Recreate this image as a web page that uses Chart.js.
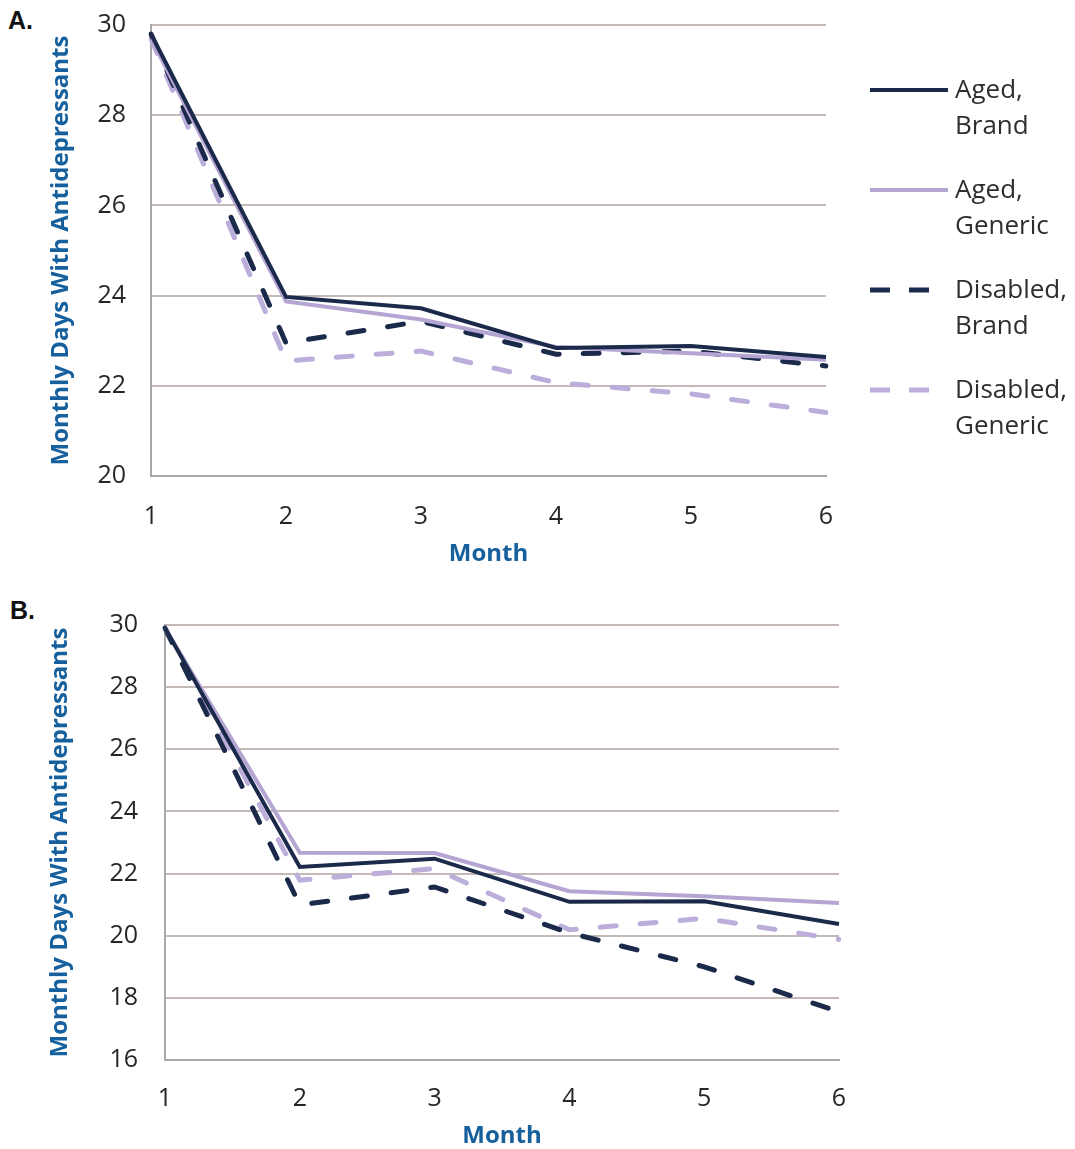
<!DOCTYPE html>
<html>
<head>
<meta charset="utf-8">
<script src="https://cdn.jsdelivr.net/npm/chart.js@4/dist/chart.umd.min.js"></script>
<style>
  html, body { margin: 0; padding: 0; background: #ffffff; }
  body { width: 1075px; height: 1149px; position: relative; overflow: hidden; }
  canvas { position: absolute; left: 0; }
  .plabel { position: absolute; font-family: "Liberation Sans", Arial, sans-serif; font-weight: bold; font-size: 25px; color: #111; }
</style>
</head>
<body>
<div class="plabel" style="left:8px; top:6px;">A.</div>
<div class="plabel" style="left:10px; top:596px;">B.</div>
<canvas id="chartA" width="1075" height="580" style="top:0px;"></canvas>
<canvas id="chartB" width="1075" height="559" style="top:590px;"></canvas>
<script>
// ---- Data ----
const months = ['1', '2', '3', '4', '5', '6'];
const seriesLabels = ['Aged, Brand', 'Aged, Generic', 'Disabled, Brand', 'Disabled, Generic'];

// Panel A
const agedBrandA       = [29.8, 23.97, 23.72, 22.84, 22.88, 22.64];
const agedGenericA     = [29.7, 23.87, 23.47, 22.86, 22.72, 22.58];
const disabledBrandA   = [29.8, 22.95, 23.43, 22.70, 22.77, 22.44];
const disabledGenericA = [29.7, 22.55, 22.77, 22.07, 21.82, 21.41];
const yTicksA = [20, 22, 24, 26, 28, 30];

// Panel B
const agedBrandB       = [29.9, 22.21, 22.48, 21.09, 21.11, 20.38];
const agedGenericB     = [29.9, 22.67, 22.66, 21.43, 21.27, 21.05];
const disabledBrandB   = [29.9, 20.99, 21.57, 20.09, 19.00, 17.55];
const disabledGenericB = [29.9, 21.79, 22.16, 20.19, 20.56, 19.88];
const yTicksB = [16, 18, 20, 22, 24, 26, 28, 30];

const yTitle = 'Monthly Days With Antidepressants';
const xTitle = 'Month';

// ---- Styles ----
const NAVY = '#1b2a4a';
const LAV = '#b4a5d3';
const LAV_D = '#bcaedb';
const BLUE = '#16609e';
const GRID = '#c4b9b5';
const AXIS = '#a8a8a8';
const TICK = '#262626';
const FONT = '"Open Sans", "DejaVu Sans", sans-serif';
const DASH = [16, 24];

function makeDatasets(a, b, c, d) {
  const vals = [a, b, c, d];
  const styles = [
    { borderColor: NAVY, borderWidth: 4, borderDash: [], borderCapStyle: 'butt' },
    { borderColor: LAV, borderWidth: 4, borderDash: [], borderCapStyle: 'butt' },
    { borderColor: NAVY, borderWidth: 5, borderDash: DASH, borderCapStyle: 'round' },
    { borderColor: LAV_D, borderWidth: 5, borderDash: DASH, borderCapStyle: 'round' }
  ];
  return vals.map((v, i) => Object.assign({
    label: seriesLabels[i],
    data: v,
    pointRadius: 0,
    pointHoverRadius: 0,
    tension: 0,
    fill: false,
    borderJoinStyle: 'miter'
  }, styles[i]));
}

function legendPlugin(cfg) {
  return {
    id: 'sideLegend',
    afterDraw(chart) {
      const ctx = chart.ctx;
      ctx.save();
      chart.data.datasets.forEach((ds, i) => {
        const y = cfg.y0 + i * cfg.spacing;
        ctx.beginPath();
        ctx.strokeStyle = ds.borderColor;
        ctx.lineWidth = ds.borderWidth;
        ctx.setLineDash(ds.borderDash && ds.borderDash.length ? cfg.legendDash : []);
        ctx.lineCap = 'butt';
        ctx.moveTo(cfg.x0, y);
        ctx.lineTo(cfg.x1, y);
        ctx.stroke();
        ctx.setLineDash([]);
        const parts = ds.label.split(', ');
        ctx.fillStyle = '#2e2e2e';
        ctx.font = cfg.fontSize + 'px ' + FONT;
        ctx.textAlign = 'left';
        ctx.textBaseline = 'middle';
        ctx.fillText(parts[0] + ',', cfg.tx, y + 1);
        ctx.fillText(parts[1], cfg.tx, y + 1 + cfg.lineGap);
      });
      ctx.restore();
    }
  };
}

function makeChart(id, datasets, opts) {
  return new Chart(document.getElementById(id), {
    type: 'line',
    data: { labels: months, datasets: datasets },
    options: {
      responsive: false,
      animation: false,
      devicePixelRatio: 1,
      layout: { padding: { left: 0, right: opts.padRight, top: opts.padTop, bottom: 0 } },
      plugins: { legend: { display: false }, tooltip: { enabled: false } },
      scales: {
        x: {
          type: 'category',
          offset: false,
          grid: { display: false, drawTicks: false },
          border: { display: true, color: AXIS, width: 2 },
          ticks: { color: TICK, font: { family: FONT, size: 25 }, padding: opts.xTickPad, maxRotation: 0 },
          title: { display: true, text: xTitle, color: BLUE, font: { family: FONT, size: 24, weight: 'bold', lineHeight: 1.1 }, padding: { top: 0, bottom: opts.xTitlePadBottom } },
          afterFit(scale) { scale.height = opts.xHeight; scale.paddingLeft = 0; scale.paddingRight = 0; }
        },
        y: {
          min: opts.yMin,
          max: opts.yMax,
          afterBuildTicks(scale) { scale.ticks = opts.yTicks.map(v => ({ value: v })); },
          grid: { color: GRID, lineWidth: 2, drawTicks: false },
          border: { display: true, color: AXIS, width: 2 },
          ticks: { color: TICK, font: { family: FONT, size: 25 }, padding: opts.yTickPad },
          title: { display: true, text: yTitle, color: BLUE, font: { family: FONT, size: 24, weight: 'bold', lineHeight: 1.2 }, padding: { top: opts.yTitlePadTop, bottom: 0 } },
          afterFit(scale) { scale.width = opts.yWidth; scale.paddingTop = 0; scale.paddingBottom = 0; }
        }
      }
    },
    plugins: [legendPlugin(opts.legend)]
  });
}

makeChart('chartA', makeDatasets(agedBrandA, agedGenericA, disabledBrandA, disabledGenericA), {
  padRight: 249, padTop: 25, xHeight: 104, yWidth: 151,
  yMin: 20, yMax: 30, yTicks: yTicksA,
  xTickPad: 26, yTickPad: 25, yTitlePadTop: 47, xTitlePadBottom: 13,
  legend: { x0: 870, x1: 948, tx: 955, y0: 90, spacing: 100, lineGap: 36, fontSize: 26, legendDash: [20, 19] }
});

makeChart('chartB', makeDatasets(agedBrandB, agedGenericB, disabledBrandB, disabledGenericB), {
  padRight: 236, padTop: 35, xHeight: 89, yWidth: 165,
  yMin: 16, yMax: 30, yTicks: yTicksB,
  xTickPad: 24, yTickPad: 27, yTitlePadTop: 46, xTitlePadBottom: 0,
  legend: { x0: 875, x1: 955, tx: 961, y0: 677, spacing: 96.5, lineGap: 35, fontSize: 26, legendDash: [20, 19] }
});
</script>
</body>
</html>
